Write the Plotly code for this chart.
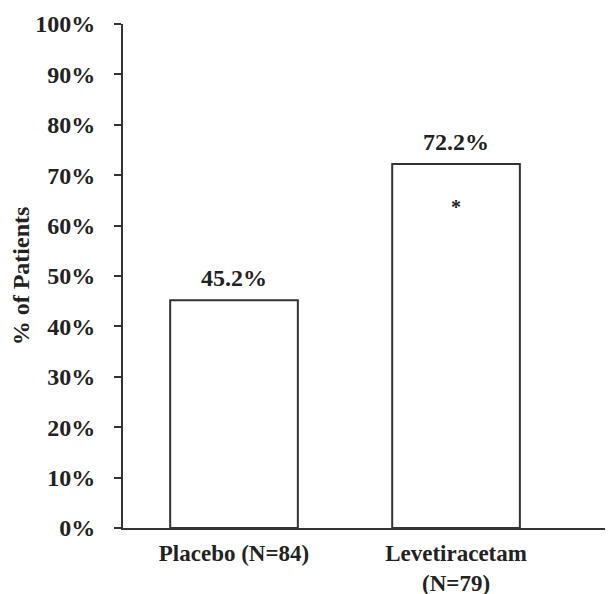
import plotly.graph_objects as go

categories = ["Placebo (N=84)", "Levetiracetam<br>(N=79)"]
values = [45.2, 72.2]
value_labels = ["45.2%", "72.2%"]
significance = ["", "*"]
y_ticks = [0, 10, 20, 30, 40, 50, 60, 70, 80, 90, 100]
y_tick_labels = [f"{t}%" for t in y_ticks]

FONT = "Liberation Serif"
INK = "#333333"

fig = go.Figure()
fig.add_trace(go.Bar(
    x=[0, 1], y=values, width=0.575,
    marker=dict(color="white", line=dict(color=INK, width=2)),
))

for i, lab in enumerate(value_labels):
    fig.add_annotation(x=i, y=values[i], text=f"<b>{lab}</b>", showarrow=False,
                       yanchor="bottom", yshift=7,
                       font=dict(family=FONT, size=24, color="#222222"))

for i, s in enumerate(significance):
    if s:
        fig.add_annotation(x=i, y=values[i], text=f"<b>{s}</b>", showarrow=False,
                           yshift=-43, font=dict(family=FONT, size=20, color="#222222"))

fig.update_layout(
    width=613, height=594,
    margin=dict(l=115, r=8, t=16, b=74),
    plot_bgcolor="white", paper_bgcolor="white",
    showlegend=False,
    font=dict(family=FONT, size=24, color="#222222", weight="bold"),
)
fig.update_xaxes(
    range=[-0.5, 1.707], tickmode="array", tickvals=[0, 1], ticktext=categories,
    showline=True, linecolor=INK, linewidth=2, ticks="", showgrid=False,
    ticklabelstandoff=3, automargin=False,
    tickfont=dict(family=FONT, size=23, weight="bold"),
)
fig.update_yaxes(
    range=[0, 100], tickmode="array", tickvals=y_ticks, ticktext=y_tick_labels,
    showline=True, linecolor=INK, linewidth=2, ticks="outside", ticklen=7,
    tickcolor=INK, tickwidth=2, showgrid=False, zeroline=False,
    ticklabelstandoff=14, automargin=False,
    tickfont=dict(family=FONT, size=24, weight="bold"),
    title=dict(text="% of Patients", font=dict(family=FONT, size=24, weight="bold"), standoff=9),
)

fig.write_html("out.html")
